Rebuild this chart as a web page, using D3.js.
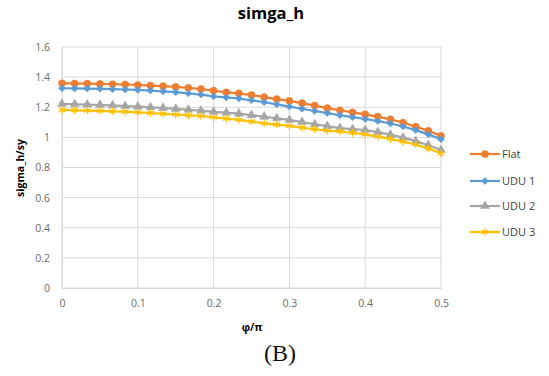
<!DOCTYPE html>
<html><head><meta charset="utf-8">
<script src="https://cdn.jsdelivr.net/npm/d3@7"></script>
<style>body{margin:0;background:#fff}svg{display:block}</style>
</head><body>
<script>
const xValues = d3.range(31).map(i => i / 60);
const flat = [1.359,1.358,1.357,1.355,1.353,1.351,1.348,1.344,1.340,1.335,1.329,1.321,1.310,1.299,1.292,1.281,1.267,1.254,1.242,1.227,1.211,1.194,1.180,1.166,1.153,1.138,1.120,1.098,1.071,1.044,1.010];
const udu1 = [1.326,1.325,1.324,1.322,1.320,1.318,1.315,1.311,1.306,1.300,1.292,1.284,1.272,1.265,1.258,1.246,1.233,1.219,1.204,1.190,1.175,1.161,1.147,1.134,1.122,1.108,1.092,1.072,1.048,1.020,0.987];
const udu2 = [1.222,1.220,1.218,1.215,1.212,1.208,1.204,1.200,1.195,1.189,1.183,1.177,1.169,1.164,1.158,1.148,1.137,1.127,1.116,1.102,1.087,1.075,1.062,1.055,1.049,1.035,1.018,0.998,0.975,0.948,0.916];
const udu3 = [1.182,1.180,1.178,1.176,1.173,1.170,1.166,1.162,1.157,1.152,1.147,1.142,1.133,1.125,1.116,1.105,1.093,1.085,1.076,1.065,1.054,1.045,1.040,1.030,1.020,1.005,0.990,0.972,0.952,0.926,0.894];
const seriesNames = ["Flat","UDU 1","UDU 2","UDU 3"];
const seriesColors = ["#ED7D31","#5B9BD5","#A5A5A5","#FFC000"];
const xTicks = [0,0.1,0.2,0.3,0.4,0.5];
const yTicks = [0,0.2,0.4,0.6,0.8,1,1.2,1.4,1.6];

const W = 549, H = 376;
const m = {left:62, right:108, top:47, bottom:88};
const svg = d3.select("body").append("svg").attr("width",W).attr("height",H);
const x = d3.scaleLinear().domain([0,0.5]).range([m.left, W - m.right]);
const y = d3.scaleLinear().domain([0,1.6]).range([H - m.bottom, m.top]);
const font = "'Open Sans', 'Liberation Sans', sans-serif";

// gridlines
svg.append("g").selectAll("line").data(yTicks).join("line")
  .attr("x1", x(0)).attr("x2", x(0.5)).attr("y1", d=>y(d)).attr("y2", d=>y(d))
  .attr("stroke","#d9d9d9").attr("stroke-width",1);
svg.append("g").selectAll("line").data(xTicks).join("line")
  .attr("y1", y(0)).attr("y2", y(1.6)).attr("x1", d=>x(d)).attr("x2", d=>x(d))
  .attr("stroke","#d9d9d9").attr("stroke-width",1);

// axes
const xAxis = svg.append("g").attr("transform",`translate(0,${y(0)})`)
  .call(d3.axisBottom(x).tickValues(xTicks).tickSize(0).tickPadding(12).tickFormat(d3.format("")));
const yAxis = svg.append("g").attr("transform",`translate(${x(0)},0)`)
  .call(d3.axisLeft(y).tickValues(yTicks).tickSize(0).tickPadding(12).tickFormat(d3.format("")));
[xAxis,yAxis].forEach(a => {
  a.select(".domain").attr("stroke","#d9d9d9");
  a.selectAll("text").attr("fill","#6b6b6b").style("font-family",font).style("font-size","10.5px");
});

const allSeries = [flat, udu1, udu2, udu3];
const markerFor = k => {
  if (k === 0) return {d: d3.symbol().type(d3.symbolCircle).size(40)(), rot: 0};
  if (k === 1) return {d: d3.symbol().type(d3.symbolSquare).size(24)(), rot: 45};
  if (k === 2) return {d: d3.symbol().type(d3.symbolTriangle).size(34)(), rot: 0};
  return {d: d3.symbol().type(d3.symbolAsterisk).size(40)(), rot: 0};
};
const line = d3.line().x((d,i)=>x(xValues[i])).y(d=>y(d));

allSeries.forEach((s, k) => {
  const g = svg.append("g");
  g.append("path").datum(s).attr("d", line).attr("fill","none")
    .attr("stroke", seriesColors[k]).attr("stroke-width",2.2);
  const mk = markerFor(k);
  g.selectAll("path.m").data(s).join("path").attr("class","m")
    .attr("transform",(d,i)=>`translate(${x(xValues[i])},${y(d)}) rotate(${mk.rot})`)
    .attr("d", mk.d)
    .attr("fill", k===3 ? "none" : seriesColors[k])
    .attr("stroke", seriesColors[k]).attr("stroke-width", k===3 ? 1.3 : 0.5);
});

// legend
const legY = [154, 181, 206, 232];
seriesNames.forEach((n,k) => {
  const g = svg.append("g").attr("transform",`translate(470,${legY[k]})`);
  g.append("line").attr("x1",0).attr("x2",30).attr("stroke",seriesColors[k]).attr("stroke-width",2.2);
  const mk = markerFor(k);
  g.append("path").attr("transform",`translate(15,0) rotate(${mk.rot})`)
    .attr("d", mk.d)
    .attr("fill", k===3 ? "none" : seriesColors[k])
    .attr("stroke", seriesColors[k]).attr("stroke-width", k===3 ? 1.3 : 0.5);
  g.append("text").attr("x",32).attr("y",0).attr("dy","0.35em")
    .attr("fill","#404040").style("font-family",font)
    .style("font-size","11px").text(n);
});

// titles
svg.append("text").attr("x",271).attr("y",19).attr("text-anchor","middle")
  .style("font-family",font).style("font-weight","bold")
  .style("font-size","16.5px").attr("fill","#000").text("simga_h");
svg.append("text").attr("transform","translate(24,168) rotate(-90)").attr("text-anchor","middle")
  .style("font-family",font).style("font-weight","bold")
  .style("font-size","10.5px").attr("fill","#000").text("sigma_h/sy");
svg.append("text").attr("x",252).attr("y",331).attr("text-anchor","middle")
  .style("font-family",font).style("font-weight","bold")
  .style("font-size","10.5px").attr("fill","#000").text("φ/π");
svg.append("text").attr("x",280).attr("y",361).attr("text-anchor","middle")
  .style("font-family","'Liberation Serif', 'Times New Roman', serif")
  .style("font-size","24px").attr("fill","#111").text("(B)");
</script>
</body></html>
